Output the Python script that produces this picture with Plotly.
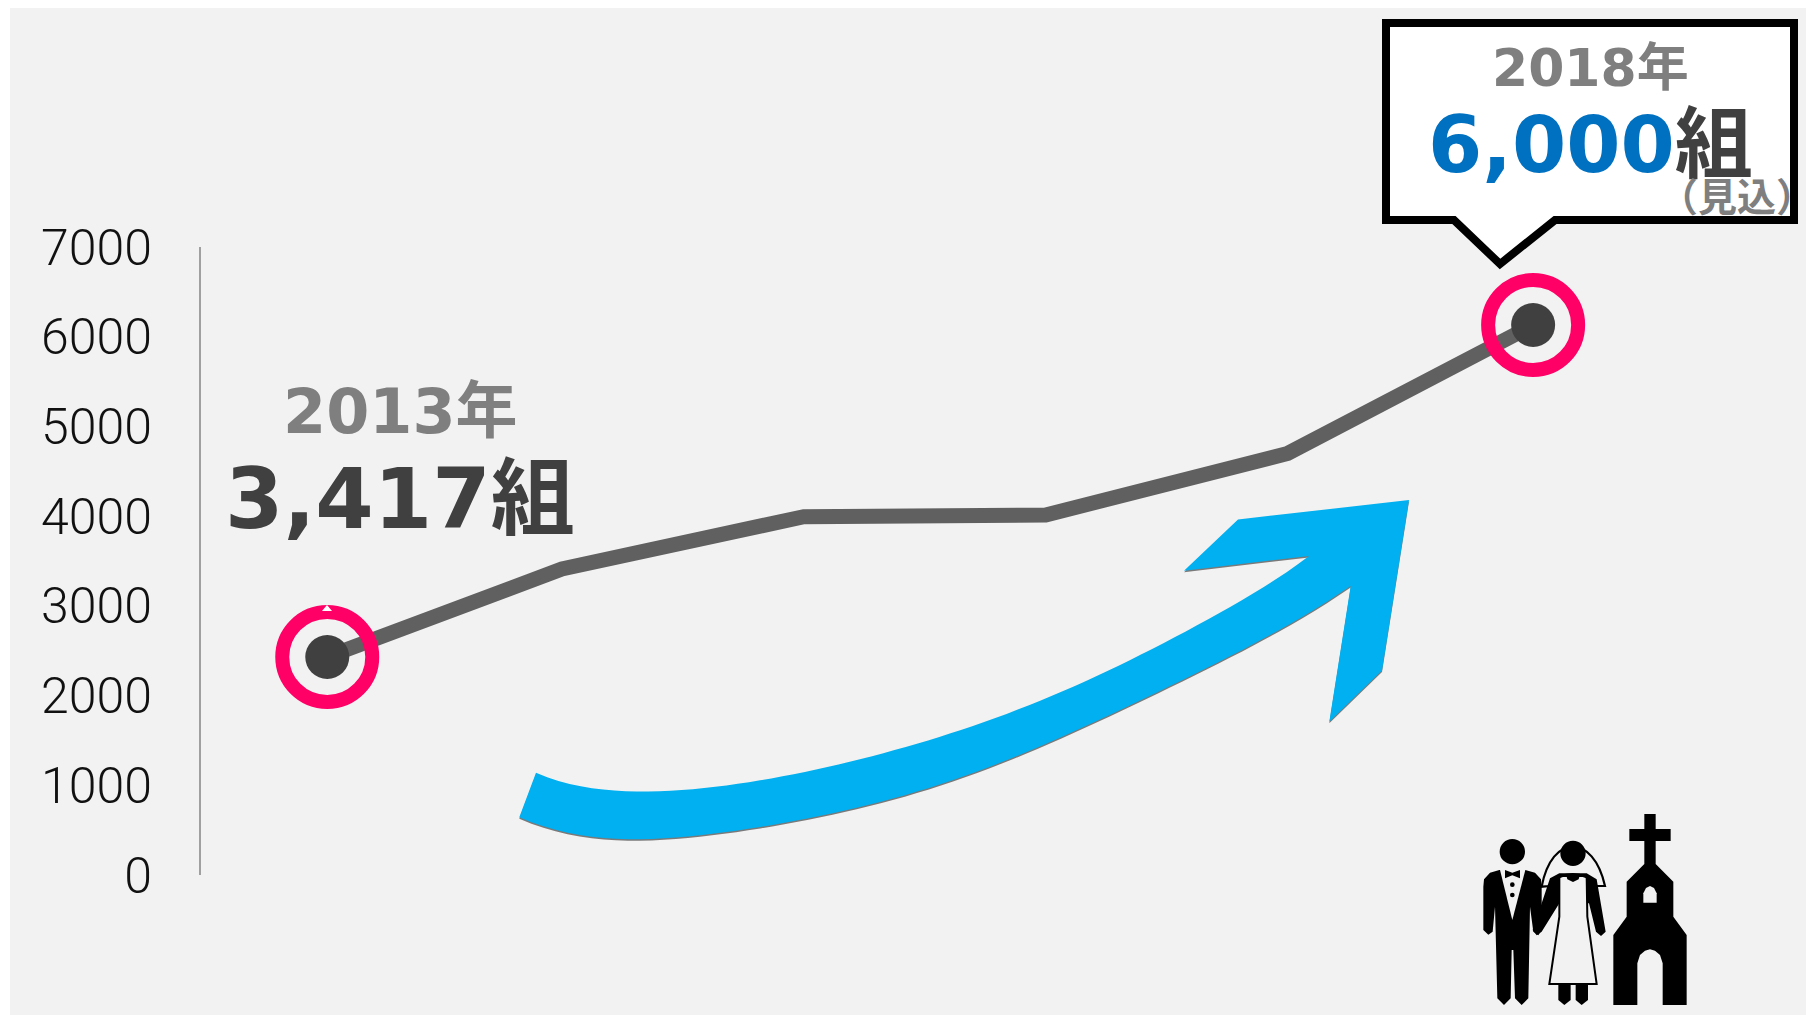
import numpy as np
import plotly.graph_objects as go

years = [2013, 2014, 2015, 2016, 2017, 2018]
values = [2401, 3411, 3994, 4013, 4699, 6108]
ring_years = [2013.03, 2018.015]
ring_values = [2430, 6131]
y_ticks = [0, 1000, 2000, 3000, 4000, 5000, 6000, 7000]

W, H = 1806, 1007
OX, OY = 8, 8
BG = "#f2f2f2"
CJK = "DejaVu Sans, Noto Sans CJK JP, sans-serif"


def fx(x):
    return (x - OX) / W


def fy(y):
    return 1 - (y - OY) / H


def pt(x, y):
    return f"{fx(x):.5f},{fy(y):.5f}"


def fair(points, degree=9, samples=70):
    # smooth the hand-read outline of the decorative arrow
    xs = np.array([p[0] for p in points], dtype=float)
    ys = np.array([p[1] for p in points], dtype=float)
    lo, hi = xs.min(), xs.max()
    t = (xs - (lo + hi) / 2) / ((hi - lo) / 2)
    w = np.ones(len(xs))
    w[[0, -1]] = 3
    c = np.polynomial.chebyshev.chebfit(t, ys, degree, w=w)
    ts = np.linspace(t[0], t[-1], samples)
    return list(zip(ts * (hi - lo) / 2 + (lo + hi) / 2, np.polynomial.chebyshev.chebval(ts, c)))


upper = [(536, 772.7), (560, 781.7), (593.3, 788.3), (643.3, 791.3), (693.3, 789.3), (743.3, 783.3), (793.3, 774.3),
         (843.3, 762.7), (910, 746), (966.7, 728.3), (1033.3, 703.3), (1100, 674.3), (1166.7, 641.7),
         (1233.3, 605), (1309, 556)]
barbs = [(1184, 570.7), (1238, 519.5), (1409, 500), (1382, 670.5), (1329.3, 721.7), (1350.7, 586)]
lower = [(1350.7, 586), (1283.3, 627.3), (1216.7, 664), (1150, 695), (1083.3, 726.7), (1016.7, 756.7), (950, 781.7),
         (910, 793.3), (843.3, 810), (776.7, 824.3), (710, 835), (653.3, 838.7), (610, 837.7), (576.7, 834.3),
         (543.3, 827.3), (519.3, 817.3)]
upper_fair = fair(upper, degree=8)
lower_fair = fair(lower, degree=8)


def arrow_path(dx=0, dy=0):
    pts = upper_fair + barbs + lower_fair
    return "M " + " L ".join(pt(a + dx, b + dy) for a, b in pts) + " Z"


shapes = []


def add_path(path, fill="black", line=None, lw=0):
    shapes.append(dict(type="path", xref="paper", yref="paper", path=path, fillcolor=fill,
                       line=dict(color=line or "rgba(0,0,0,0)", width=lw)))


def iz(x, y):
    return (1440 + x / 3, 790 + y / 3)


def poly(pts, close=True):
    p = "M " + " L ".join(pt(*iz(*q)) for q in pts)
    return p + (" Z" if close else "")


def circle(cx, cy, r, fill="black"):
    a, b = iz(cx - r, cy - r), iz(cx + r, cy + r)
    shapes.append(dict(type="circle", xref="paper", yref="paper", x0=fx(a[0]), x1=fx(b[0]),
                       y0=fy(a[1]), y1=fy(b[1]), fillcolor=fill, line=dict(width=0)))


# white page margin on the left edge
shapes.append(dict(type="rect", xref="paper", yref="paper", x0=0, x1=fx(10), y0=0, y1=1,
                   fillcolor="white", line=dict(width=0), layer="below"))

# curved arrow
add_path(arrow_path(0, 1.5), fill="#7a7a7a")
add_path(arrow_path(), fill="#00b0f0")

# callout
callout = [(1386, 23), (1794, 23), (1794, 220), (1555, 220), (1500, 264), (1454, 220), (1386, 220)]
add_path("M " + " L ".join(pt(*c) for c in callout) + " Z", fill="white", line="black", lw=8)

# small white mark on the left ring
add_path("M " + " L ".join(pt(*c) for c in [(327, 605), (322, 611), (332, 611)]) + " Z", fill="#ffffff")

# groom
add_path(poly([(130, 290), (132, 268), (150, 248), (178, 240), (256, 240), (285, 248), (303, 268), (305, 290),
               (305, 420), (295, 436), (280, 425), (270, 350), (265, 625), (245, 645), (225, 625), (220, 480),
               (215, 480), (212, 625), (192, 645), (172, 625), (165, 350), (158, 425), (145, 434), (130, 420)]))
add_path(poly([(180, 240), (256, 240), (217, 390)]), fill=BG)
add_path(poly([(195, 240), (217, 248), (240, 240), (240, 265), (217, 256), (195, 265)]))
circle(217, 185, 38)
circle(217, 284, 7)
circle(217, 315, 7)

# bride
add_path(poly([(330, 265), (358, 250), (440, 250), (470, 268), (497, 425), (483, 438), (468, 425), (447, 340),
               (358, 340), (305, 425), (290, 436), (278, 420), (305, 340)]))
add_path(poly([(355, 580), (392, 580), (392, 630), (373, 645), (355, 630)]))
add_path(poly([(407, 580), (444, 580), (444, 630), (425, 645), (407, 630)]))
add_path(poly([(358, 258), (440, 258), (442, 380), (470, 582), (328, 582), (358, 380)]), fill=BG, line="black", lw=2)
add_path(poly([(378, 252), (420, 252), (416, 268), (399, 276), (382, 268)]))
a1, a2, a3, a4, a5 = iz(305, 290), iz(335, 130), iz(460, 130), iz(495, 288), iz(470, 288)
a6, a7, a8 = iz(430, 240), iz(365, 240), iz(330, 288)
add_path(f"M {pt(*a1)} C {pt(*a2)} {pt(*a3)} {pt(*a4)} L {pt(*a5)} C {pt(*a6)} {pt(*a7)} {pt(*a8)} Z",
         fill="rgba(0,0,0,0)", line="black", lw=2.2)
circle(399, 190, 38)

# church
add_path(poly([(613, 72), (647, 72), (647, 117), (692, 117), (692, 153), (647, 153), (647, 222), (700, 275), (700, 380),
               (740, 435), (740, 645), (668, 645), (668, 520), (660, 495), (645, 482), (630, 478), (615, 482), (600, 495),
               (592, 520), (592, 645), (520, 645), (520, 435), (560, 380), (560, 275), (613, 222), (613, 153),
               (568, 153), (568, 117), (613, 117)]))
add_path(poly([(610, 338), (650, 338), (650, 310), (642, 294), (630, 288), (618, 294), (610, 310)]), fill=BG)

fig = go.Figure()
fig.add_trace(go.Scatter(x=years, y=values, mode="lines", line=dict(color="#606060", width=15), hoverinfo="skip"))
fig.add_trace(go.Scatter(x=ring_years, y=ring_values, mode="markers",
                         marker=dict(size=90, color="rgba(0,0,0,0)", line=dict(color="#ff0066", width=14)),
                         hoverinfo="skip"))
fig.add_trace(go.Scatter(x=ring_years, y=ring_values, mode="markers",
                         marker=dict(size=44, color="#404040"), hoverinfo="skip"))


def note(x, y, text, size, color, anchor="center"):
    return dict(x=fx(x), y=fy(y), xref="paper", yref="paper", text=text, showarrow=False, xanchor=anchor,
                yanchor="middle", font=dict(family=CJK, size=size, color=color, weight=700))


annotations = [
    note(400, 412, "2013年", 62, "#7f7f7f"),
    note(400, 499, "3,417組", 84, "#404040"),
    note(1590, 68, "2018年", 52, "#7f7f7f"),
    note(1590, 145, "<span style='color:#0070c0'>6,000</span>組", 78, "#404040"),
    note(1737, 198, "（見込）", 39, "#7f7f7f"),
]

X0 = 201
X2013, X2018 = 320, 1529.5
per = (X2018 - X2013) / (years[-1] - years[0])
x_low = years[0] - (X2013 - X0) / per
x_high = years[-1] + (OX + W - X2018) / per

fig.update_layout(
    width=W, height=H, autosize=False,
    margin=dict(l=0, r=0, t=0, b=0, pad=0),
    paper_bgcolor=BG, plot_bgcolor="rgba(0,0,0,0)",
    showlegend=False, shapes=shapes, annotations=annotations,
    xaxis=dict(visible=False, automargin=False, range=[x_low, x_high], domain=[fx(X0), 1], fixedrange=True),
    yaxis=dict(automargin=False, range=[0, 7000], domain=[fy(875), fy(247)], tickvals=y_ticks,
               ticktext=[str(t) for t in y_ticks],
               showgrid=False, zeroline=False, showline=True, linecolor="#a0a0a0", linewidth=2,
               ticks="outside", ticklen=37, tickcolor="rgba(0,0,0,0)", fixedrange=True,
               tickfont=dict(family="Roboto", size=50, color="#111111", weight=300)),
)
fig.write_html("out.html", config=dict(displayModeBar=False),
               post_script="document.documentElement.style.overflow='hidden';")
